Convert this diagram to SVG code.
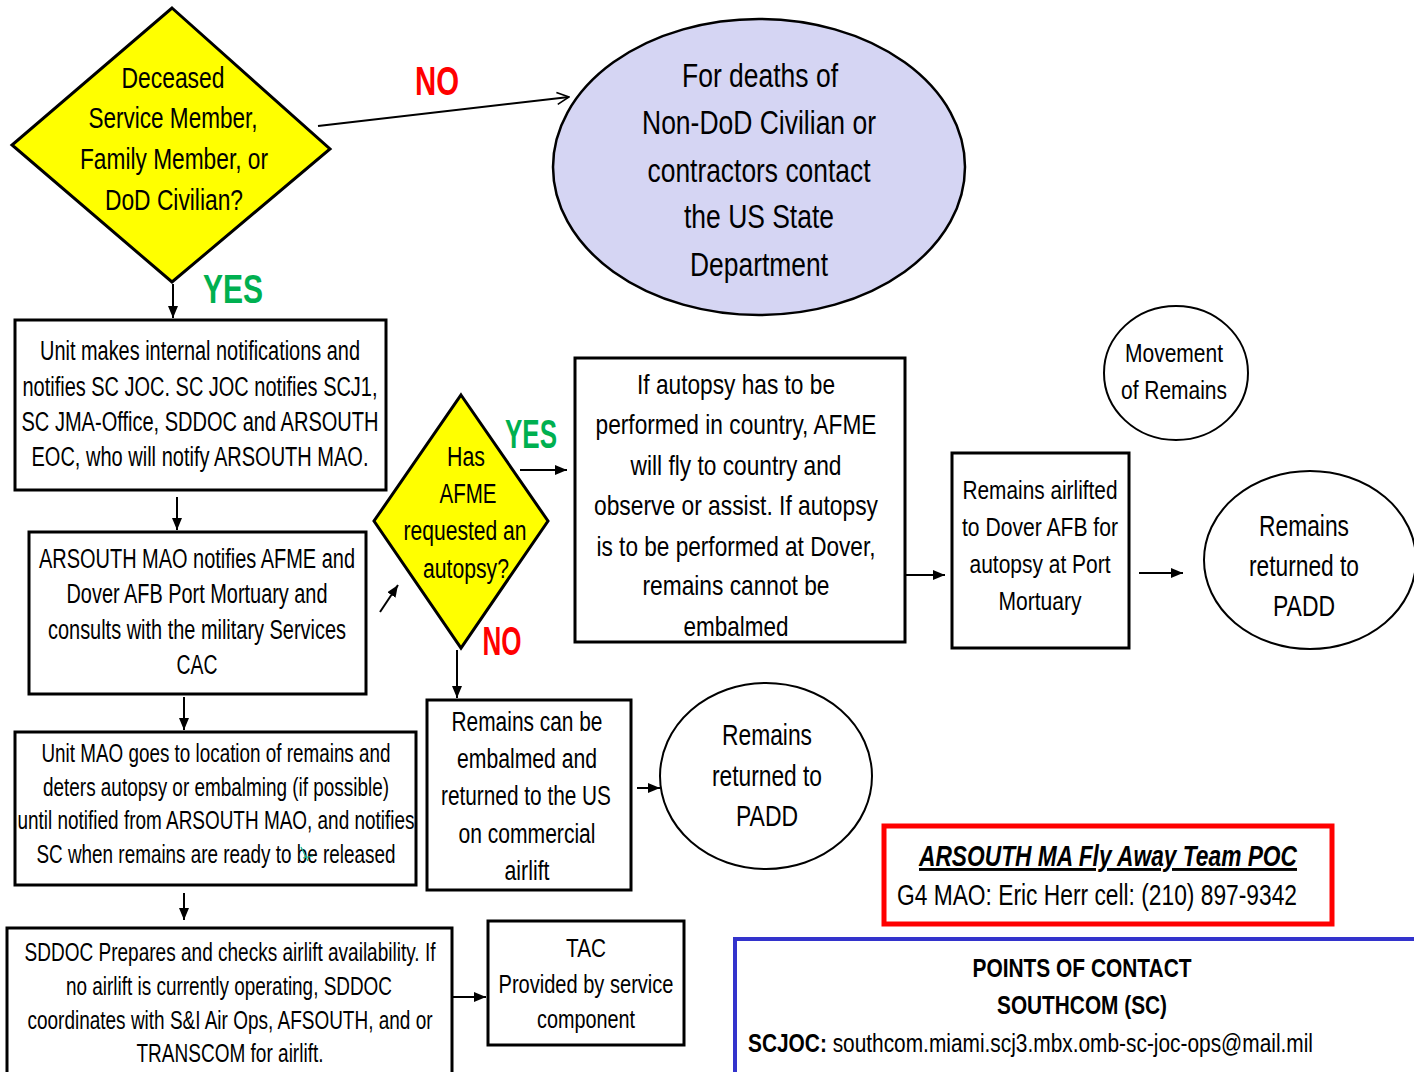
<svg xmlns="http://www.w3.org/2000/svg" width="1414" height="1072" viewBox="0 0 1414 1072">
<style>
text{font-family:"Liberation Sans Narrow","Liberation Sans",Arial,sans-serif;fill:#000;text-anchor:middle}
.box{fill:#fff;stroke:#000;stroke-width:3}
.dia{fill:#FFFF00;stroke:#000;stroke-width:3;stroke-linejoin:miter}
.ell{fill:#fff;stroke:#000;stroke-width:2}
.con{stroke:#000;stroke-width:2;fill:none}
.no{fill:#FF0000;font-weight:bold;font-size:40px}
.yes{fill:#00B050;font-weight:bold;font-size:40px}
</style>
<defs>
<marker id="ah" viewBox="0 0 12 10" refX="12" refY="5" markerWidth="12" markerHeight="10" markerUnits="userSpaceOnUse" orient="auto">
<path d="M0,0 L12,5 L0,10 Z" fill="#000"/>
</marker>
<marker id="av" viewBox="0 0 14 14" refX="13" refY="7" markerWidth="14" markerHeight="14" markerUnits="userSpaceOnUse" orient="auto">
<path d="M1,1 L13,7 L1,13" fill="none" stroke="#000" stroke-width="1.6"/>
</marker>
</defs>
<rect width="1414" height="1072" fill="#fff"/>

<g id="connectors">
<line class="con" x1="318" y1="126" x2="569" y2="97" marker-end="url(#av)"/>
<line class="con" x1="173" y1="284" x2="173" y2="318" marker-end="url(#ah)"/>
<line class="con" x1="177" y1="497" x2="177" y2="530" marker-end="url(#ah)"/>
<line class="con" x1="380" y1="612" x2="398" y2="585" marker-end="url(#ah)"/>
<line class="con" x1="520" y1="470" x2="567" y2="470" marker-end="url(#ah)"/>
<line class="con" x1="457" y1="650" x2="457" y2="698" marker-end="url(#ah)"/>
<line class="con" x1="901" y1="575" x2="945" y2="575" marker-end="url(#ah)"/>
<line class="con" x1="1139" y1="573" x2="1183" y2="573" marker-end="url(#ah)"/>
<line class="con" x1="637" y1="788" x2="660" y2="788" marker-end="url(#ah)"/>
<line class="con" x1="184" y1="697" x2="184" y2="730" marker-end="url(#ah)"/>
<line class="con" x1="184" y1="893" x2="184" y2="920" marker-end="url(#ah)"/>
<line class="con" x1="453" y1="997" x2="486" y2="997" marker-end="url(#ah)"/>
</g>

<g id="labels">
<text class="no" x="437" y="95" textLength="44" lengthAdjust="spacingAndGlyphs">NO</text>
<text class="yes" x="233" y="303" textLength="60" lengthAdjust="spacingAndGlyphs">YES</text>
<text class="yes" x="531" y="448" textLength="52" lengthAdjust="spacingAndGlyphs">YES</text>
<text class="no" x="502" y="655" textLength="39" lengthAdjust="spacingAndGlyphs">NO</text>
</g>

<g id="decision1">
<polygon class="dia" points="172,8 330,149 172,282 12,145"/>
<g font-size="30">
<text x="173" y="88" textLength="103" lengthAdjust="spacingAndGlyphs">Deceased</text>
<text x="173" y="128" textLength="169" lengthAdjust="spacingAndGlyphs">Service Member,</text>
<text x="174" y="169" textLength="188" lengthAdjust="spacingAndGlyphs">Family Member, or</text>
<text x="174" y="210" textLength="138" lengthAdjust="spacingAndGlyphs">DoD Civilian?</text>
</g>
</g>

<g id="state-dept">
<ellipse cx="759" cy="167" rx="206" ry="148" fill="#D5D5F3" stroke="#000" stroke-width="2.5"/>
<g font-size="34">
<text x="760" y="87" textLength="156" lengthAdjust="spacingAndGlyphs">For deaths of</text>
<text x="759" y="134" textLength="234" lengthAdjust="spacingAndGlyphs">Non-DoD Civilian or</text>
<text x="759" y="182" textLength="223" lengthAdjust="spacingAndGlyphs">contractors contact</text>
<text x="759" y="228" textLength="150" lengthAdjust="spacingAndGlyphs">the US State</text>
<text x="759" y="276" textLength="138" lengthAdjust="spacingAndGlyphs">Department</text>
</g>
</g>

<g id="unit-notify">
<rect class="box" x="15" y="320" width="371" height="170"/>
<g font-size="27">
<text x="200" y="360" textLength="320" lengthAdjust="spacingAndGlyphs">Unit makes internal notifications and</text>
<text x="200" y="396" textLength="355" lengthAdjust="spacingAndGlyphs">notifies SC JOC. SC JOC notifies SCJ1,</text>
<text x="200" y="431" textLength="357" lengthAdjust="spacingAndGlyphs">SC JMA-Office, SDDOC and ARSOUTH</text>
<text x="200" y="466" textLength="337" lengthAdjust="spacingAndGlyphs">EOC, who will notify ARSOUTH MAO.</text>
</g>
</g>

<g id="arsouth-mao">
<rect class="box" x="29" y="532" width="337" height="162"/>
<g font-size="27">
<text x="197" y="568" textLength="316" lengthAdjust="spacingAndGlyphs">ARSOUTH MAO notifies AFME and</text>
<text x="197" y="603" textLength="261" lengthAdjust="spacingAndGlyphs">Dover AFB Port Mortuary and</text>
<text x="197" y="639" textLength="298" lengthAdjust="spacingAndGlyphs">consults with the military Services</text>
<text x="197" y="674" textLength="41" lengthAdjust="spacingAndGlyphs">CAC</text>
</g>
</g>

<g id="decision2">
<polygon class="dia" points="461,395 548,521 461,648 374,521"/>
<g font-size="27">
<text x="466" y="466" textLength="38" lengthAdjust="spacingAndGlyphs">Has</text>
<text x="468" y="503" textLength="57" lengthAdjust="spacingAndGlyphs">AFME</text>
<text x="465" y="540" textLength="123" lengthAdjust="spacingAndGlyphs">requested an</text>
<text x="466" y="578" textLength="86" lengthAdjust="spacingAndGlyphs">autopsy?</text>
</g>
</g>

<g id="autopsy-country">
<rect class="box" x="575" y="358" width="330" height="284"/>
<g font-size="28">
<text x="736" y="394" textLength="198" lengthAdjust="spacingAndGlyphs">If autopsy has to be</text>
<text x="736" y="434" textLength="281" lengthAdjust="spacingAndGlyphs">performed in country, AFME</text>
<text x="736" y="475" textLength="211" lengthAdjust="spacingAndGlyphs">will fly to country and</text>
<text x="736" y="515" textLength="284" lengthAdjust="spacingAndGlyphs">observe or assist. If autopsy</text>
<text x="736" y="556" textLength="279" lengthAdjust="spacingAndGlyphs">is to be performed at Dover,</text>
<text x="736" y="595" textLength="187" lengthAdjust="spacingAndGlyphs">remains cannot be</text>
<text x="736" y="636" textLength="105" lengthAdjust="spacingAndGlyphs">embalmed</text>
</g>
</g>

<g id="airlift-dover">
<rect class="box" x="952" y="453" width="177" height="195"/>
<g font-size="26">
<text x="1040" y="499" textLength="155" lengthAdjust="spacingAndGlyphs">Remains airlifted</text>
<text x="1040" y="536" textLength="156" lengthAdjust="spacingAndGlyphs">to Dover AFB for</text>
<text x="1040" y="573" textLength="141" lengthAdjust="spacingAndGlyphs">autopsy at Port</text>
<text x="1040" y="610" textLength="83" lengthAdjust="spacingAndGlyphs">Mortuary</text>
</g>
</g>

<g id="movement">
<ellipse class="ell" cx="1176" cy="373" rx="72" ry="67"/>
<g font-size="26">
<text x="1174" y="362" textLength="98" lengthAdjust="spacingAndGlyphs">Movement</text>
<text x="1174" y="399" textLength="106" lengthAdjust="spacingAndGlyphs">of Remains</text>
</g>
</g>

<g id="padd1">
<ellipse class="ell" cx="1310" cy="560" rx="106" ry="89"/>
<g font-size="29">
<text x="1304" y="536" textLength="90" lengthAdjust="spacingAndGlyphs">Remains</text>
<text x="1304" y="576" textLength="110" lengthAdjust="spacingAndGlyphs">returned to</text>
<text x="1304" y="616" textLength="62" lengthAdjust="spacingAndGlyphs">PADD</text>
</g>
</g>

<g id="embalmed">
<rect class="box" x="427" y="700" width="204" height="190"/>
<g font-size="27">
<text x="527" y="731" textLength="151" lengthAdjust="spacingAndGlyphs">Remains can be</text>
<text x="527" y="768" textLength="140" lengthAdjust="spacingAndGlyphs">embalmed and</text>
<text x="526" y="805" textLength="170" lengthAdjust="spacingAndGlyphs">returned to the US</text>
<text x="527" y="843" textLength="137" lengthAdjust="spacingAndGlyphs">on commercial</text>
<text x="527" y="880" textLength="45" lengthAdjust="spacingAndGlyphs">airlift</text>
</g>
</g>

<g id="padd2">
<ellipse class="ell" cx="766" cy="776" rx="106" ry="93"/>
<g font-size="29">
<text x="767" y="745" textLength="90" lengthAdjust="spacingAndGlyphs">Remains</text>
<text x="767" y="786" textLength="110" lengthAdjust="spacingAndGlyphs">returned to</text>
<text x="767" y="826" textLength="62" lengthAdjust="spacingAndGlyphs">PADD</text>
</g>
</g>

<g id="unit-mao">
<rect class="box" x="15" y="732" width="401" height="153"/>
<g font-size="25">
<text x="216" y="762" textLength="349" lengthAdjust="spacingAndGlyphs">Unit MAO goes to location of remains and</text>
<text x="216" y="796" textLength="346" lengthAdjust="spacingAndGlyphs">deters autopsy or embalming (if possible)</text>
<text x="216" y="829" textLength="397" lengthAdjust="spacingAndGlyphs">until notified from ARSOUTH MAO, and notifies</text>
<text x="216" y="863" textLength="359" lengthAdjust="spacingAndGlyphs">SC when remains are ready to be released</text>
</g>
<path d="M301,847 L308,861 M303,858 L313,856" stroke="#1FB89A" stroke-width="1.2" fill="none"/>
</g>

<g id="sddoc">
<rect class="box" x="7" y="928" width="445" height="150"/>
<g font-size="25">
<text x="230" y="961" textLength="411" lengthAdjust="spacingAndGlyphs">SDDOC Prepares and checks airlift availability. If</text>
<text x="229" y="995" textLength="326" lengthAdjust="spacingAndGlyphs">no airlift is currently operating, SDDOC</text>
<text x="230" y="1029" textLength="405" lengthAdjust="spacingAndGlyphs">coordinates with S&amp;I Air Ops, AFSOUTH, and or</text>
<text x="230" y="1062" textLength="187" lengthAdjust="spacingAndGlyphs">TRANSCOM for airlift.</text>
</g>
</g>

<g id="tac">
<rect class="box" x="488" y="921" width="196" height="124"/>
<g font-size="26">
<text x="586" y="957" textLength="40" lengthAdjust="spacingAndGlyphs">TAC</text>
<text x="586" y="993" textLength="175" lengthAdjust="spacingAndGlyphs">Provided by service</text>
<text x="586" y="1028" textLength="98" lengthAdjust="spacingAndGlyphs">component</text>
</g>
</g>

<g id="fly-away-poc">
<rect x="884" y="826" width="448" height="98" fill="#fff" stroke="#FF0000" stroke-width="5"/>
<g font-size="29">
<text x="1108" y="866" font-weight="bold" font-style="italic" text-decoration="underline" textLength="378" lengthAdjust="spacingAndGlyphs">ARSOUTH MA Fly Away Team POC</text>
<text x="1097" y="905" textLength="400" lengthAdjust="spacingAndGlyphs">G4 MAO: Eric Herr cell: (210) 897-9342</text>
</g>
</g>

<g id="points-of-contact">
<rect x="735" y="939" width="720" height="200" fill="#fff" stroke="#3333CC" stroke-width="4"/>
<g font-size="26">
<text x="1082" y="977" font-weight="bold" textLength="219" lengthAdjust="spacingAndGlyphs">POINTS OF CONTACT</text>
<text x="1082" y="1014" font-weight="bold" textLength="170" lengthAdjust="spacingAndGlyphs">SOUTHCOM (SC)</text>
<text x="748" y="1052" style="text-anchor:start" textLength="565" lengthAdjust="spacingAndGlyphs"><tspan font-weight="bold">SCJOC:</tspan> southcom.miami.scj3.mbx.omb-sc-joc-ops@mail.mil</text>
</g>
</g>
</svg>
